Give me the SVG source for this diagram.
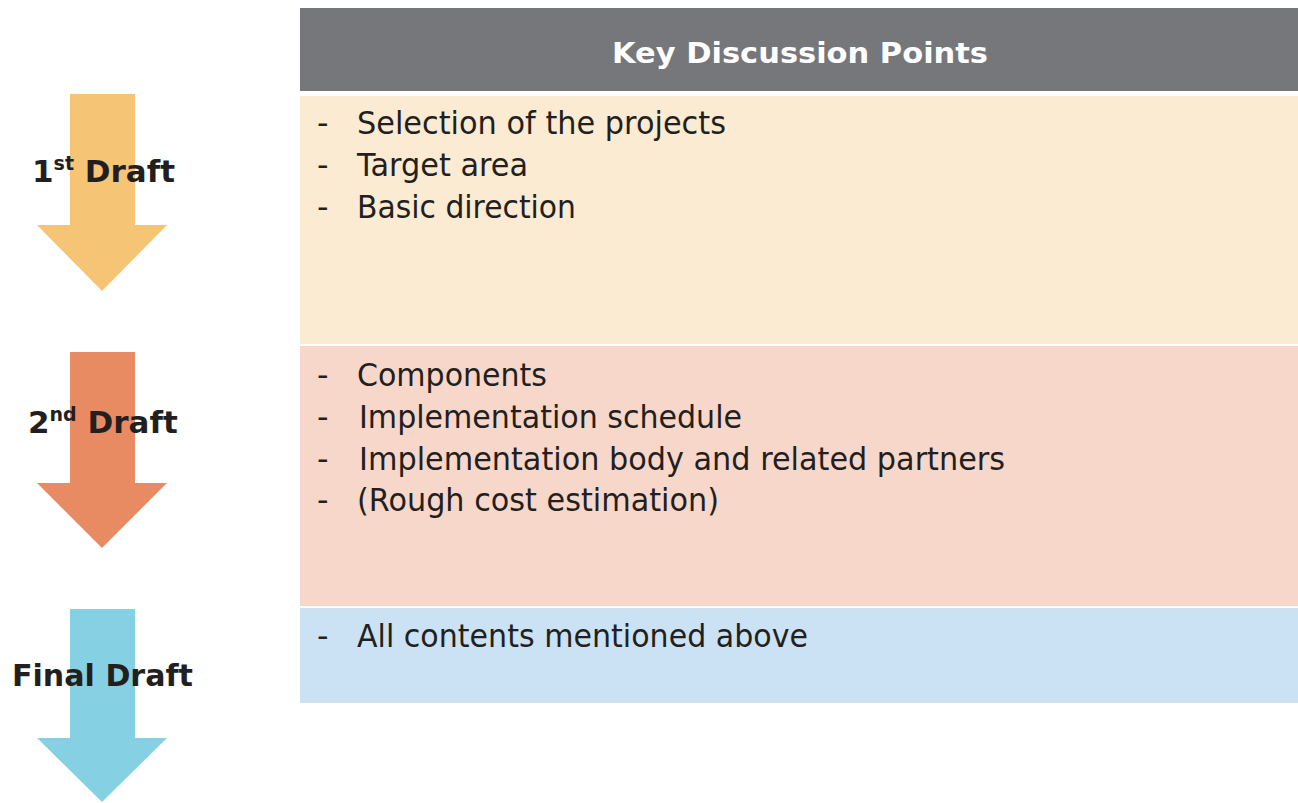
<svg xmlns="http://www.w3.org/2000/svg" width="1298" height="803" viewBox="0 0 1298 803">
<style>
.body{font-family:"DejaVu Sans","Liberation Sans",sans-serif;font-size:32px;fill:#231f20}
.lbl{font-family:"DejaVu Sans","Liberation Sans",sans-serif;font-size:31px;font-weight:bold;fill:#231f20}
.hdr{font-family:"DejaVu Sans","Liberation Sans",sans-serif;font-size:28.5px;font-weight:bold;fill:#ffffff}
</style>
<rect width="1298" height="803" fill="#ffffff"/>
<g id="arrow1"><polygon points="70,94 135,94 135,225 167,225 102,291 37,225 70,225" fill="#F5C475"/></g>
<g id="arrow2"><polygon points="70,352 135,352 135,483 167,483 102,548 37,483 70,483" fill="#E88A62"/></g>
<g id="arrow3"><polygon points="70,609 135,609 135,738 167,738 102,802 37,738 70,738" fill="#86D0E3"/></g>
<g id="header">
<rect x="300" y="8" width="998" height="83" fill="#76777B"/>
<text class="hdr" x="800" y="63" text-anchor="middle" textLength="376" lengthAdjust="spacingAndGlyphs">Key Discussion Points</text>
</g>
<g id="panel1">
<rect x="300" y="96" width="998" height="248" fill="#FAEBD2"/>
<text class="body" x="317" y="134">-</text><text class="body" x="357" y="134" textLength="369" lengthAdjust="spacingAndGlyphs">Selection of the projects</text>
<text class="body" x="317" y="176">-</text><text class="body" x="357" y="176" textLength="171" lengthAdjust="spacingAndGlyphs">Target area</text>
<text class="body" x="317" y="218">-</text><text class="body" x="357" y="218" textLength="219" lengthAdjust="spacingAndGlyphs">Basic direction</text>
</g>
<g id="panel2">
<rect x="300" y="346" width="998" height="260" fill="#F7D7CA"/>
<text class="body" x="317" y="386">-</text><text class="body" x="357" y="386" textLength="190" lengthAdjust="spacingAndGlyphs">Components</text>
<text class="body" x="317" y="428">-</text><text class="body" x="359" y="428" textLength="383" lengthAdjust="spacingAndGlyphs">Implementation schedule</text>
<text class="body" x="317" y="470">-</text><text class="body" x="359" y="470" textLength="646" lengthAdjust="spacingAndGlyphs">Implementation body and related partners</text>
<text class="body" x="317" y="511">-</text><text class="body" x="357" y="511" textLength="362" lengthAdjust="spacingAndGlyphs">(Rough cost estimation)</text>
</g>
<g id="panel3">
<rect x="300" y="608" width="998" height="95" fill="#CBE2F4"/>
<text class="body" x="317" y="647">-</text><text class="body" x="357" y="647" textLength="451" lengthAdjust="spacingAndGlyphs">All contents mentioned above</text>
</g>
<g id="label1"><text class="lbl" x="32" y="182">1<tspan font-size="19" dy="-12">st</tspan><tspan dy="12"> Draft</tspan></text></g>
<g id="label2"><text class="lbl" x="28" y="433">2<tspan font-size="19" dy="-12">nd</tspan><tspan dy="12"> Draft</tspan></text></g>
<g id="label3"><text class="lbl" x="12" y="686" textLength="181" lengthAdjust="spacingAndGlyphs">Final Draft</text></g>
<g id="connectors"/>
</svg>
